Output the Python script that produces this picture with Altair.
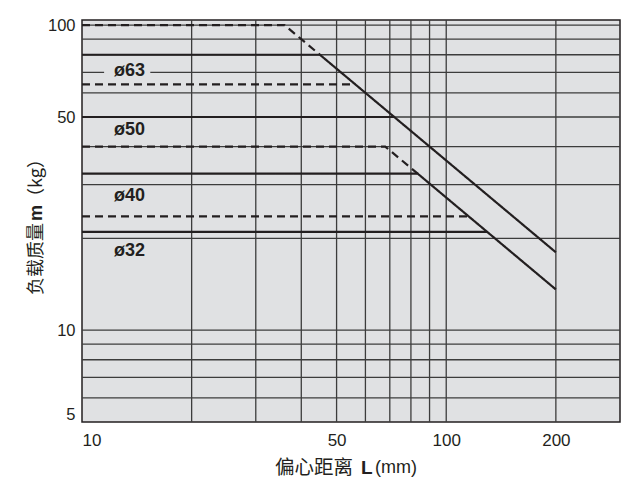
import altair as alt
import pandas as pd

# ---- data ----
# curves: horizontal limit lines joining the two 1/L diagonals
curve_names = ["top_dashed", "phi63", "mid63_dashed", "phi50",
               "phi50_dashed", "phi40", "phi40_dashed", "phi32"]
curve_style = ["dashed", "solid", "dashed", "solid",
               "dashed", "solid", "dashed", "solid"]
curve_L = [[10, 36, 45], [10, 45, 200], [10, 56.3], [10, 72],
           [10, 68, 83.5], [10, 83.5, 200], [10, 115], [10, 129.5]]
curve_m = [[100, 100, 80], [80, 80, 18], [64, 64], [50, 50],
           [40, 40, 32.6], [32.6, 32.6, 13.6], [23.6, 23.6], [21, 21]]

# grid lines
grid_L = [20, 30, 40, 50, 60, 70, 80, 90, 100, 200]
grid_m = [6, 7, 8, 9, 10, 20, 30, 40, 50, 60, 70, 80, 90, 100]

# axis tick labels
tick_L = [10, 50, 100, 200]
tick_m = [5, 10, 50, 100]

# bore size labels
label_text = ["ø63", "ø50", "ø40", "ø32"]
label_L = [13.5, 13.5, 13.5, 13.5]
label_m = [71.0, 45.2, 27.6, 18.2]

# small gap behind the ø63 label (hides the gridline there)
gap_L = [11.5, 15.4]
gap_m = [66.5, 76.0]

# ---- build tables ----
rows = []
for name, style, Ls, ms in zip(curve_names, curve_style, curve_L, curve_m):
    for i, (L, m) in enumerate(zip(Ls, ms)):
        rows.append({"curve": name, "style": style, "idx": i, "L": L, "m": m})
df_curves = pd.DataFrame(rows)
df_gx = pd.DataFrame({"L": grid_L})
df_gy = pd.DataFrame({"m": grid_m})
df_labels = pd.DataFrame({"text": label_text, "L": label_L, "m": label_m})
df_gap = pd.DataFrame({"L": [gap_L[0]], "L2": [gap_L[1]], "m": [gap_m[0]], "m2": [gap_m[1]]})
df_one = pd.DataFrame({"k": [0]})

INK = "#231f20"
BG = "#e0e1e3"
GRID = "#3c3c3c"
FONT = "Liberation Sans"
CJK = "Noto Sans CJK SC"

xs = alt.Scale(type="log", domain=[10, 300], nice=False)
ys = alt.Scale(type="log", domain=[5, 104], nice=False)

ax_x = alt.Axis(values=tick_L, format="d", grid=False, ticks=False, tickSize=0,
                domain=False, labelFlush=True, labelPadding=10,
                labelFont=FONT, labelFontSize=17, labelColor=INK, title=None)
ax_y = alt.Axis(values=tick_m, format="d", grid=False, ticks=False, tickSize=0,
                domain=False, labelFlush=True, labelPadding=7,
                labelFont=FONT, labelFontSize=16.5, labelColor=INK, title=None)

X = lambda f: alt.X(f, scale=xs, axis=ax_x)
Y = lambda f: alt.Y(f, scale=ys, axis=ax_y)

grid_x = alt.Chart(df_gx).mark_rule(color=GRID, strokeWidth=1.3).encode(x=X("L:Q"))
grid_y = alt.Chart(df_gy).mark_rule(color=GRID, strokeWidth=1.3).encode(y=Y("m:Q"))

gap = alt.Chart(df_gap).mark_rect(color=BG).encode(
    x=X("L:Q"), x2="L2:Q", y=Y("m:Q"), y2="m2:Q",
)

lines = alt.Chart(df_curves).mark_line(color=INK, strokeWidth=2.2).encode(
    x=X("L:Q"),
    y=Y("m:Q"),
    detail="curve:N",
    order="idx:Q",
    strokeDash=alt.StrokeDash("style:N", legend=None,
                              scale=alt.Scale(domain=["solid", "dashed"], range=[[1, 0], [8, 5]])),
)

labels = alt.Chart(df_labels).mark_text(
    font=FONT, fontSize=18, fontWeight="bold", color=INK, align="center", baseline="middle"
).encode(
    x=X("L:Q"),
    y=Y("m:Q"),
    text="text:N",
)

# axis titles (with bold symbol letters)
def txt(s, x, y, font, size, weight="normal", align="left", angle=0):
    return alt.Chart(df_one).mark_text(
        text=s, font=font, fontSize=size, fontWeight=weight, color=INK,
        align=align, baseline="middle", angle=angle
    ).encode(x=alt.value(x), y=alt.value(y))

xt1 = txt("偏心距离", 271, 448, CJK, 19.5, align="right")
xt2 = txt("L", 279, 448, FONT, 19, weight="bold")
xt3 = txt("(mm)", 293, 448, FONT, 18)

yt1 = txt("负载质量", -45, 275, CJK, 18, angle=270)
yt2 = txt("m", -45, 201, FONT, 18, weight="bold", angle=270)
yt3 = txt("（kg）", -45, 186, CJK, 18, angle=270)

chart = alt.layer(
    grid_x, grid_y, gap, lines, labels, xt1, xt2, xt3, yt1, yt2, yt3
).properties(
    width=538, height=402,
    autosize=alt.AutoSizeParams(type="none"),
    padding={"left": 74, "top": 12, "right": 8, "bottom": 60},
).configure_view(
    fill=BG, stroke=INK, strokeWidth=1.5
)

chart.save("out.html", embed_options={"renderer": "svg", "actions": False})
